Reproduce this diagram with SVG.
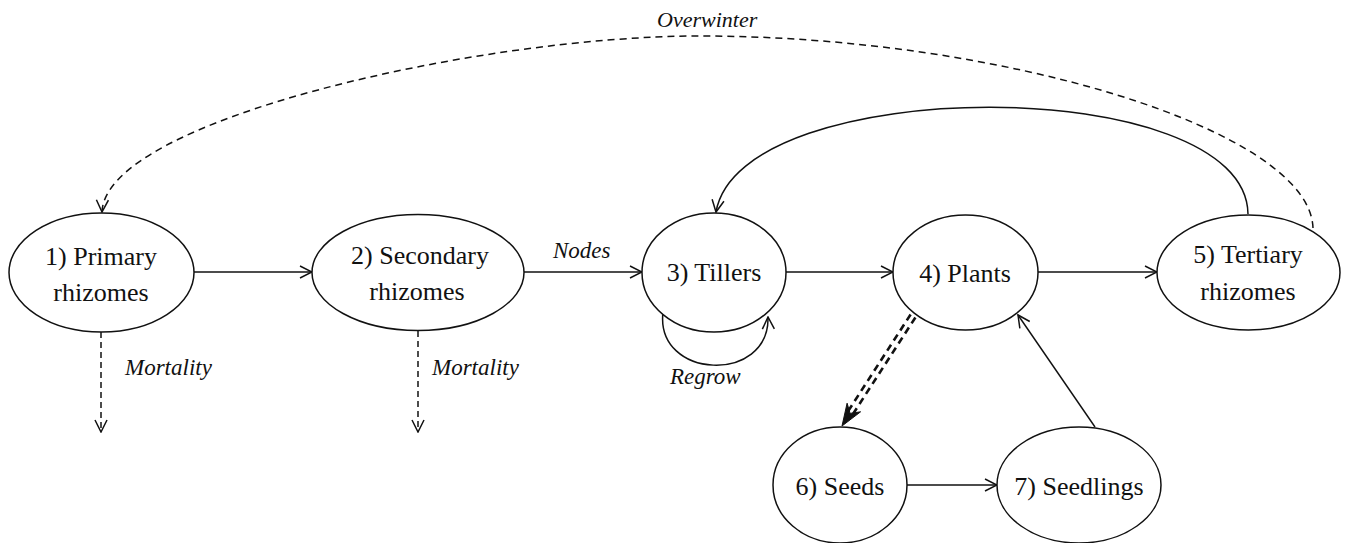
<svg xmlns="http://www.w3.org/2000/svg" width="1345" height="543" viewBox="0 0 1345 543">
<style>
.node{fill:#fff;stroke:#111;stroke-width:1.5}
.lbl{font-family:"Liberation Serif","Times New Roman",serif;font-size:26px;fill:#111;text-anchor:middle}
.it{font-family:"Liberation Serif","Times New Roman",serif;font-size:23px;font-style:italic;fill:#111}
.ln{fill:none;stroke:#111;stroke-width:1.5}
.dash{stroke-dasharray:6,4}
.ow{stroke-dasharray:7,5}
.thick{fill:none;stroke:#111;stroke-width:2.6;stroke-dasharray:7,5}
</style>
<defs>
<marker id="arr" markerUnits="userSpaceOnUse" viewBox="0 0 14 14" markerWidth="14" markerHeight="14" refX="13" refY="7" orient="auto">
<path d="M1,1 L13,7 L1,13" fill="none" stroke="#111" stroke-width="1.5"/>
</marker>
</defs>
<rect width="1345" height="543" fill="#fff"/>
<g id="connectors">
<path class="ln ow" d="M1313,228 C1310,130 1000,36 700,36 C480,36 105,120 102,212" marker-end="url(#arr)"/>
<path class="ln" d="M1248,214 C1246,72 740,72 716,212" marker-end="url(#arr)"/>
<line class="ln" x1="194" y1="272" x2="312" y2="272" marker-end="url(#arr)"/>
<line class="ln" x1="524" y1="272" x2="642" y2="272" marker-end="url(#arr)"/>
<line class="ln" x1="786" y1="272" x2="893" y2="272" marker-end="url(#arr)"/>
<line class="ln" x1="1037" y1="272" x2="1157" y2="272" marker-end="url(#arr)"/>
<line class="ln" x1="907" y1="485" x2="997" y2="485" marker-end="url(#arr)"/>
<line class="ln" x1="1095" y1="427" x2="1018" y2="315" marker-end="url(#arr)"/>
<path class="ln" d="M663,312 C655,380 770,384 768,317" marker-end="url(#arr)"/>
<line class="ln dash" x1="101" y1="332" x2="101" y2="432" marker-end="url(#arr)"/>
<line class="ln dash" x1="418" y1="331" x2="418" y2="432" marker-end="url(#arr)"/>
<line class="thick" x1="915.4" y1="317.5" x2="853.0" y2="414.0"/>
<line class="thick" x1="910.6" y1="314.5" x2="848.2" y2="411.0"/>
<polygon points="842,426 847.1,403.2 850.1,413.4 860.6,411.8" fill="#111" stroke="#111" stroke-width="1"/>
<text class="it" x="657" y="27" style="font-size:22px">Overwinter</text>
<text class="it" x="553" y="258">Nodes</text>
<text class="it" x="670" y="384">Regrow</text>
<text class="it" x="125" y="375">Mortality</text>
<text class="it" x="432" y="375">Mortality</text>
</g>
<g id="n1"><ellipse class="node" cx="101.5" cy="272.5" rx="92.5" ry="59.5"/><text class="lbl" x="101" y="265">1) Primary</text><text class="lbl" x="101" y="301">rhizomes</text></g>
<g id="n2"><ellipse class="node" cx="418" cy="272.5" rx="106" ry="58"/><text class="lbl" x="420" y="264">2) Secondary</text><text class="lbl" x="417" y="300">rhizomes</text></g>
<g id="n3"><ellipse class="node" cx="714" cy="272.5" rx="72" ry="59.5"/><text class="lbl" x="714" y="281">3) Tillers</text></g>
<g id="n4"><ellipse class="node" cx="965.5" cy="272.5" rx="72.5" ry="57.5"/><text class="lbl" x="965" y="282">4) Plants</text></g>
<g id="n5"><ellipse class="node" cx="1248.5" cy="272.5" rx="91.5" ry="57.5"/><text class="lbl" x="1248" y="263">5) Tertiary</text><text class="lbl" x="1248" y="300">rhizomes</text></g>
<g id="n6"><ellipse class="node" cx="840" cy="485" rx="67" ry="58"/><text class="lbl" x="840" y="495">6) Seeds</text></g>
<g id="n7"><ellipse class="node" cx="1079" cy="485" rx="82" ry="58"/><text class="lbl" x="1079" y="495">7) Seedlings</text></g>
</svg>
